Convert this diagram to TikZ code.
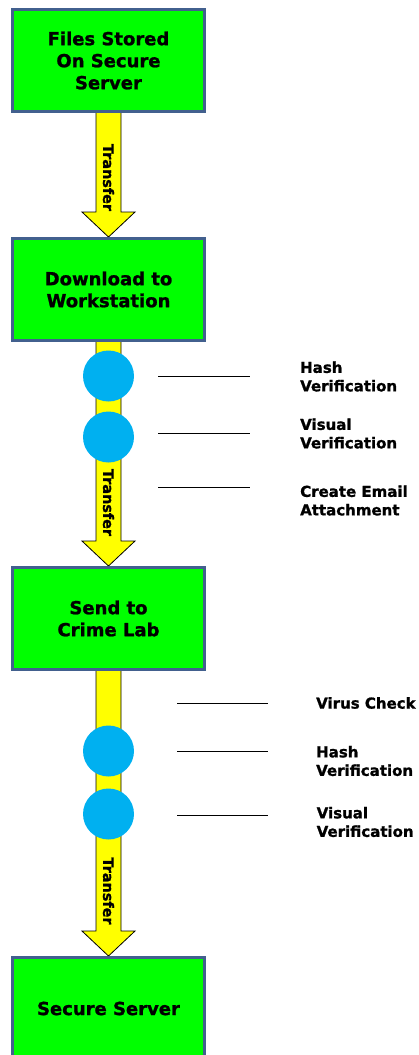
\documentclass[tikz,border=0pt]{standalone}
\usepackage{fontspec}
\setmainfont{DejaVu Sans}[BoldFeatures={FakeBold=1.2}]
\usetikzlibrary{calc}
\pgfdeclarelayer{bg}
\pgfsetlayers{bg,main}
\definecolor{boxgreen}{RGB}{0,255,0}
\definecolor{boxedge}{RGB}{66,96,142}
\definecolor{arrowyellow}{RGB}{255,255,0}
\definecolor{dotblue}{RGB}{0,176,240}

% Block arrow from the centre of one stage to the top edge of the next,
% drawn behind the stage boxes
\newcommand{\flowarrow}[2]{%
  \begin{pgfonlayer}{bg}
    \draw[flowshaft] let \p1=(#1.center), \p2=(#2.north) in
      (\x1-12.5pt,\y1) -- (\x1-12.5pt,\y2+25pt) -- (\x1-26.5pt,\y2+25pt)
      -- (\x1,\y2) -- (\x1+26.5pt,\y2+25pt) -- (\x1+12.5pt,\y2+25pt)
      -- (\x1+12.5pt,\y1) -- cycle;
  \end{pgfonlayer}}

\begin{document}
\begin{tikzpicture}[x=1pt,y=-1pt,
  stage/.style={draw=boxedge, line width=2.8pt, fill=boxgreen,
    minimum width=192.2pt, minimum height=102.2pt, inner sep=0pt,
    align=center, font=\fontsize{18}{22}\selectfont\bfseries},
  flowshaft/.style={draw=black, line width=0.8pt, fill=arrowyellow},
  transfer/.style={rotate=-90, inner sep=0pt,
    font=\fontsize{14.4}{16}\selectfont\bfseries},
  dot/.style={circle, fill=dotblue, minimum size=51pt, inner sep=0pt},
  tick/.style={draw=black, line width=0.9pt},
  note/.style={anchor=west, align=left, inner sep=0pt,
    font=\fontsize{15}{18.5}\selectfont\bfseries}
]
\useasboundingbox (0,0) rectangle (418,1055);

% Stages
\node[stage] (s1) at (108.5,60.5)  {Files Stored\\On Secure\\Server};
\node[stage] (s2) at (108.5,289.5) {Download to\\Workstation};
\node[stage] (s3) at (108.5,618.5) {Send to\\Crime Lab};
\node[stage] (s4) at (108.5,1008.5) {Secure Server};

% Transfer arrows
\flowarrow{s1}{s2}
\flowarrow{s2}{s3}
\flowarrow{s3}{s4}
\node[transfer] (t1) at (108.5,177.5) {Transfer};
\node[transfer] (t2) at (108.5,502.5) {Transfer};
\node[transfer] (t3) at (108.5,891)   {Transfer};

% Checkpoints on the way to the workstation
\node[dot] (d1) at (108.5,376) {};
\node[dot] (d2) at (108.5,437) {};
\coordinate (a1) at (158,376); \coordinate (b1) at (250,376);
\coordinate (a2) at (158,433); \coordinate (b2) at (250,433);
\coordinate (a3) at (158,487); \coordinate (b3) at (250,487);
\draw[tick] (a1) -- (b1);
\draw[tick] (a2) -- (b2);
\draw[tick] (a3) -- (b3);
\node[note] (n1) at (300,376.5) {Hash\\Verification};
\node[note] (n2) at (300,433.5) {Visual\\Verification};
\node[note] (n3) at (300,500.5) {Create Email\\Attachment};

% Checkpoints on the way to the crime lab
\node[dot] (d3) at (108.5,751) {};
\node[dot] (d4) at (108.5,814) {};
\coordinate (a4) at (177,703); \coordinate (b4) at (268,703);
\coordinate (a5) at (177,751); \coordinate (b5) at (268,751);
\coordinate (a6) at (177,815); \coordinate (b6) at (268,815);
\draw[tick] (a4) -- (b4);
\draw[tick] (a5) -- (b5);
\draw[tick] (a6) -- (b6);
\node[note] (n4) at (316,703)   {Virus Check};
\node[note] (n5) at (316,761)   {Hash\\Verification};
\node[note] (n6) at (316.5,822) {Visual\\Verification};
\end{tikzpicture}
\end{document}
